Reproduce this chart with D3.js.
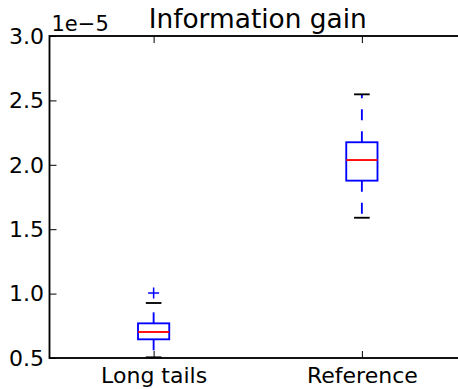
<!DOCTYPE html>
<html>
<head>
<meta charset="utf-8">
<script src="https://cdn.jsdelivr.net/npm/d3@7/dist/d3.min.js"></script>
<style>
  body { margin: 0; background: #fff; overflow: hidden; }
  svg text { font-family: "DejaVu Sans", sans-serif; }
</style>
</head>
<body>
<svg id="chart" width="458" height="389"></svg>
<script>
// box statistics, in units of 1e-5
const categories = ["Long tails", "Reference"];
const whiskerLow = [0.505, 1.589];
const q1 = [0.645, 1.877];
const median = [0.702, 2.037];
const q3 = [0.769, 2.175];
const whiskerHigh = [0.927, 2.547];
const fliers = [[1.005], []];
const yTicks = [0.5, 1.0, 1.5, 2.0, 2.5, 3.0];

const data = categories.map((c, i) => ({
    name: c, pos: i + 1,
    lo: whiskerLow[i], q1: q1[i], med: median[i], q3: q3[i], hi: whiskerHigh[i],
    fliers: fliers[i]
}));

const svg = d3.select("#chart"),
    margin = {top: 36, left: 49.5},
    width = 416.5,
    height = 322;

const x = d3.scaleLinear().domain([0.5, 2.5]).range([0, width]),
    y = d3.scaleLinear().domain([0.5, 3.0]).range([height, 0]);

const g = svg.append("g")
    .attr("transform", "translate(" + margin.left + "," + margin.top + ")");

const lw = 1.85;
const boxW = x(0.15) - x(0),
    capW = boxW / 2;

// whiskers (dashed, drawn from box edge outward)
[["q1", "lo"], ["q3", "hi"]].forEach(([a, b]) => {
    g.append("g").selectAll(".whisker")
        .data(data)
        .enter()
        .append("line")
        .attr("x1", (d) => x(d.pos)).attr("x2", (d) => x(d.pos))
        .attr("y1", (d) => y(d[a])).attr("y2", (d) => y(d[b]))
        .attr("stroke", "#0000ff").attr("stroke-width", lw)
        .attr("stroke-dasharray", "11,11");
});

// caps
["lo", "hi"].forEach((k) => {
    g.append("g").selectAll(".cap")
        .data(data)
        .enter()
        .append("line")
        .attr("x1", (d) => x(d.pos) - capW / 2).attr("x2", (d) => x(d.pos) + capW / 2)
        .attr("y1", (d) => y(d[k])).attr("y2", (d) => y(d[k]))
        .attr("stroke", "#000").attr("stroke-width", lw);
});

// boxes
g.append("g").selectAll(".box")
    .data(data)
    .enter()
    .append("rect")
    .attr("x", (d) => x(d.pos) - boxW / 2)
    .attr("width", boxW)
    .attr("y", (d) => y(d.q3))
    .attr("height", (d) => y(d.q1) - y(d.q3))
    .attr("fill", "none")
    .attr("stroke", "#0000ff").attr("stroke-width", lw);

// medians
g.append("g").selectAll(".median")
    .data(data)
    .enter()
    .append("line")
    .attr("x1", (d) => x(d.pos) - boxW / 2).attr("x2", (d) => x(d.pos) + boxW / 2)
    .attr("y1", (d) => y(d.med)).attr("y2", (d) => y(d.med))
    .attr("stroke", "#ff0000").attr("stroke-width", lw);

// fliers as '+'
const fl = data.flatMap((d) => d.fliers.map((v) => ({pos: d.pos, v: v})));
g.append("g").selectAll(".flier")
    .data(fl)
    .enter()
    .append("path")
    .attr("d", (d) => {
        const cx = x(d.pos), cy = y(d.v), r = 5.5;
        return "M" + (cx - r) + "," + cy + "H" + (cx + r) + "M" + cx + "," + (cy - r) + "V" + (cy + r);
    })
    .attr("stroke", "#0000ff").attr("stroke-width", 1.5).attr("fill", "none");

// axes (classic style: ticks inside on all sides)
const tickLen = 7;
const fontSize = 22;

const yAxis = g.append("g")
    .call(d3.axisLeft(y).tickValues(yTicks).tickFormat(d3.format(".1f")).tickSizeInner(-tickLen).tickSizeOuter(0).tickPadding(5.5));
yAxis.selectAll("text")
    .style("font-size", fontSize + "px").style("font-family", "DejaVu Sans")
    .attr("fill", "#000").attr("dy", "0.33em");

const xAxis = g.append("g")
    .attr("transform", "translate(0," + height + ")")
    .call(d3.axisBottom(x).tickValues(data.map((d) => d.pos)).tickFormat((d, i) => categories[i]).tickSizeInner(-tickLen).tickSizeOuter(0).tickPadding(0));
xAxis.selectAll("text")
    .style("font-size", fontSize + "px").style("font-family", "DejaVu Sans")
    .attr("fill", "#000").attr("y", 25).attr("dy", null);

g.append("g")
    .call(d3.axisTop(x).tickValues(data.map((d) => d.pos)).tickFormat("").tickSizeInner(-tickLen).tickSizeOuter(0));

g.append("g")
    .attr("transform", "translate(" + width + ",0)")
    .call(d3.axisRight(y).tickValues(yTicks).tickFormat("").tickSizeInner(-tickLen).tickSizeOuter(0));

g.selectAll(".domain").remove();
g.selectAll(".tick line").attr("stroke", "#000").attr("stroke-width", 1);

// frame
g.append("rect")
    .attr("x", 0).attr("y", 0)
    .attr("width", width).attr("height", height)
    .attr("fill", "none").attr("stroke", "#000").attr("stroke-width", lw);

// offset text and title
g.append("text")
    .attr("x", 2).attr("y", -5)
    .style("font-size", "21px")
    .text("1e\u22125");

g.append("text")
    .attr("x", width / 2).attr("y", -8.5)
    .attr("text-anchor", "middle")
    .style("font-size", "26.4px")
    .text("Information gain");
</script>
</body>
</html>
